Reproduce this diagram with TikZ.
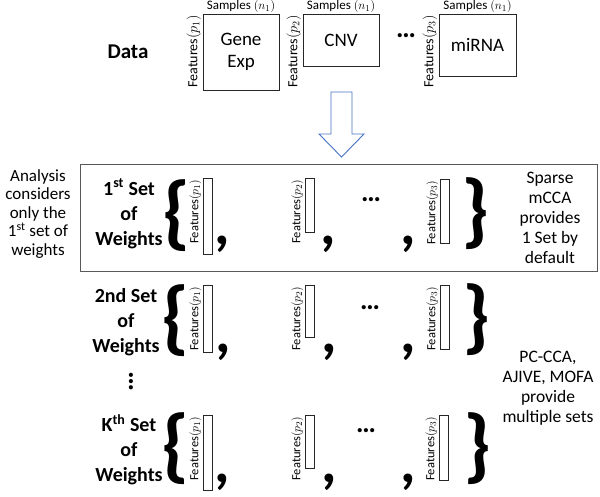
\documentclass[tikz,border=0pt]{standalone}
\usepackage{fontspec}
\setmainfont{Carlito}
\usetikzlibrary{positioning}
\definecolor{framegray}{HTML}{595959}
\definecolor{arrowblue}{HTML}{4472C4}

\begin{document}
\begin{tikzpicture}[x=1pt,y=-1pt,
    datamat/.style={draw=black!85,line width=0.9pt,align=center,inner sep=0pt,font=\fontsize{19}{22}\selectfont},
    samplab/.style={inner sep=0.5pt,font=\fontsize{13}{13}\selectfont},
    featlab/.style={rotate=90,anchor=south east,inner sep=1.5pt,font=\fontsize{14}{14}\selectfont},
    featsmall/.style={featlab,font=\fontsize{12.5}{12.5}\selectfont},
    wbar/.style={draw=black!85,line width=0.7pt,inner sep=0pt,anchor=north west,minimum width=9pt},
    settext/.style={align=center,font=\fontsize{20}{25}\selectfont\bfseries},
    sidetext/.style={align=center,font=\fontsize{17.5}{20}\selectfont},
    bigbrace/.style={inner sep=0pt,font=\fontsize{82}{82}\selectfont\bfseries},
    bigcomma/.style={inner sep=0pt,anchor=base,font=\fontsize{60}{60}\selectfont\bfseries},
    hdots/.style={inner sep=0pt,font=\fontsize{28}{28}\selectfont\bfseries}]
  \useasboundingbox (0,0) rectangle (600,496);

  \node[font=\fontsize{21}{21}\selectfont\bfseries] (data) at (128,52) {Data};
  \node[datamat,minimum width=76pt,minimum height=76pt] (gene) at (241,52) {Gene\\Exp};
  \node[datamat,minimum width=76pt,minimum height=52pt] (cnv) at (341,40) {CNV};
  \node[datamat,minimum width=77pt,minimum height=62pt] (mirna) at (477.5,45) {miRNA};
  \node[samplab,above=0pt of gene] {Samples $(n_1)$};
  \node[samplab,above=0pt of cnv] {Samples $(n_1)$};
  \node[samplab,above=0pt of mirna] {Samples $(n_1)$};
  \node[featlab] at (gene.north west) {Features$(p_1)$};
  \node[featlab] at (cnv.north west) {Features$(p_2)$};
  \node[featlab] at (mirna.north west) {Features$(p_3)$};
  \node[hdots] (datadots) at (406,36) {…};

  \draw[arrowblue,line width=0.9pt] (331,92) -- (352,92) -- (352,134) -- (364,134)
    -- (341.5,157) -- (319,134) -- (331,134) -- cycle;

  \draw[framegray,line width=1pt] (80,164) rectangle (597,271);
  \node[align=center,font=\fontsize{17}{18.5}\selectfont] (onlyfirst) at (38,214)
    {Analysis\\considers\\only the\\1\textsuperscript{st} set of\\weights};
  \node[sidetext] (sparse) at (550,218) {Sparse\\mCCA\\provides\\1 Set by\\default};
  \node[sidetext] (multi) at (548,388) {PC-CCA,\\AJIVE, MOFA\\provide\\multiple sets};

  % first set
  \node[settext] (set1) at (129,214) {1\textsuperscript{st} Set\\of\\Weights};
  \node[bigbrace] (lb1) at (177,216) {\{};
  \node[wbar,minimum height=76pt] (w11) at (203,178) {};
  \node[wbar,minimum height=54pt] (w12) at (305,178) {};
  \node[wbar,minimum height=64pt] (w13) at (440,179) {};
  \node[featsmall] at (w11.north west) {Features$(p_1)$};
  \node[featsmall] at (w12.north west) {Features$(p_2)$};
  \node[featsmall] at (w13.north west) {Features$(p_3)$};
  \node[bigcomma] at (222,244) {,};
  \node[bigcomma] at (328,244) {,};
  \node[bigcomma] at (408,244) {,};
  \node[hdots] (dots1) at (371,200) {…};
  \node[bigbrace] (rb1) at (476,214) {\}};

  % second set
  \node[settext] (set2) at (126,322) {2nd Set\\of\\Weights};
  \node[bigbrace] (lb2) at (176,321) {\{};
  \node[wbar,minimum height=67pt] (w21) at (203,285) {};
  \node[wbar,minimum height=52pt] (w22) at (305,285) {};
  \node[wbar,minimum height=64pt] (w23) at (440,285) {};
  \node[featsmall] at (w21.north west) {Features$(p_1)$};
  \node[featsmall] at (w22.north west) {Features$(p_2)$};
  \node[featsmall] at (w23.north west) {Features$(p_3)$};
  \node[bigcomma] at (223,352) {,};
  \node[bigcomma] at (329,352) {,};
  \node[bigcomma] at (408,352) {,};
  \node[hdots] (dots2) at (370,308) {…};
  \node[bigbrace] (rb2) at (477,320) {\}};

  \node[hdots,rotate=90] (vdots) at (131,382) {…};

  % k-th set
  \node[settext] (setk) at (129,450) {K\textsuperscript{th} Set\\of\\Weights};
  \node[bigbrace] (lbk) at (176,449) {\{};
  \node[wbar,minimum height=75pt] (wk1) at (203,415) {};
  \node[wbar,minimum height=53pt] (wk2) at (305,415) {};
  \node[wbar,minimum height=65pt] (wk3) at (439,415) {};
  \node[featsmall] at (wk1.north west) {Features$(p_1)$};
  \node[featsmall] at (wk2.north west) {Features$(p_2)$};
  \node[featsmall] at (wk3.north west) {Features$(p_3)$};
  \node[bigcomma] at (222,482) {,};
  \node[bigcomma] at (329,482) {,};
  \node[bigcomma] at (408,482) {,};
  \node[hdots] (dotsk) at (366,431) {…};
  \node[bigbrace] (rbk) at (478,449) {\}};
\end{tikzpicture}
\end{document}
